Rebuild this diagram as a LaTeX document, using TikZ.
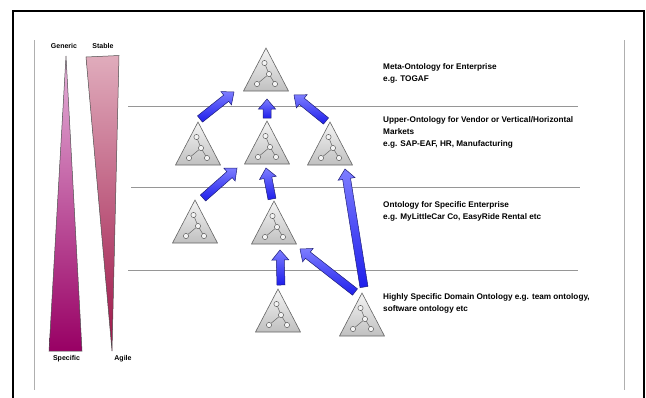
\documentclass[tikz,border=0pt]{standalone}
\usepackage{fontspec}
\setmainfont{Liberation Sans}
\usetikzlibrary{calc}
\definecolor{arrowlight}{RGB}{125,125,255}
\definecolor{arrowdark}{RGB}{30,30,235}
\definecolor{arrowedge}{RGB}{30,30,120}
\definecolor{genlight}{RGB}{230,178,218}
\definecolor{gendark}{RGB}{152,0,100}
\definecolor{stablight}{RGB}{224,172,188}
\definecolor{stabdark}{RGB}{158,20,72}
\definecolor{trilight}{RGB}{244,244,244}
\definecolor{tridark}{RGB}{192,192,192}
\definecolor{triedge}{RGB}{100,100,100}
\definecolor{rulegray}{RGB}{150,150,150}
\definecolor{sidegray}{RGB}{175,175,175}
\tikzset{
  blockarrow/.style={draw=arrowedge,line width=0.5pt,top color=arrowlight,bottom color=arrowdark,line join=miter},
  trifill/.style={draw=triedge,line width=0.6pt,top color=trilight,bottom color=tridark,line join=miter},
  treeline/.style={draw=triedge,line width=0.5pt},
  treenode/.style={draw=triedge,fill=trilight,line width=0.5pt},
  rule/.style={draw=rulegray,line width=1pt},
  sideline/.style={draw=sidegray,line width=0.9pt},
  frameline/.style={draw=black,line width=2pt},
  desc/.style={anchor=north west,inner sep=0pt,align=left,font=\bfseries\fontsize{8.2}{12}\selectfont},
  axislabel/.style={inner sep=0pt,font=\bfseries\fontsize{7}{8}\selectfont},
  onto/.pic={
    \path[trifill] (0,0) -- (-22.5,43) -- (22.5,43) -- cycle;
    \draw[treeline] (-1.5,15) -- (3,26) -- (-9,36) (3,26) -- (9,36);
    \foreach \q in {(-1.5,15),(3,26),(-9,36),(9,36)} \draw[treenode] \q circle (2.6pt);
  }
}
\newcommand\ontoarrow[2]{%
  \coordinate (hb) at ($(#2)!10pt!(#1)$);
  \path[blockarrow] ($(#1)!4pt!90:(#2)$) -- ($(hb)!4pt!90:(#2)$) -- ($(hb)!8.5pt!90:(#2)$) -- (#2)
    -- ($(hb)!8.5pt!-90:(#2)$) -- ($(hb)!4pt!-90:(#2)$) -- ($(#1)!4pt!-90:(#2)$) -- cycle;
}
\begin{document}
\begin{tikzpicture}[x=1pt,y=-1pt]
\useasboundingbox (0,0) rectangle (646,397);
% frame
\draw[frameline] (13,398) -- (13,11) -- (644,11) -- (644,398);
\draw[sideline] (34,40) -- (34,390);
\draw[sideline] (624,40) -- (624,390);
% left gradient triangles
\path[draw=black!70,line width=0.5pt,top color=genlight,bottom color=gendark] (66,56) -- (82,351) -- (49,351) -- cycle;
\path[draw=black!70,line width=0.5pt,top color=stablight,bottom color=stabdark] (86,57) -- (119,55.5) -- (112,351) -- cycle;
\node[axislabel] (gen) at (64,46) {Generic};
\node[axislabel] (stab) at (103,46) {Stable};
\node[axislabel] (spec) at (66.5,359) {Specific};
\node[axislabel] (agile) at (123,359) {Agile};
% layer rules
\draw[rule] (128,106) -- (578,106);
\draw[rule] (131,187) -- (580,187);
\draw[rule] (128,270) -- (578,270);
% ontology triangles
\coordinate (T0) at (266,48);
\coordinate (T1) at (198,122);
\coordinate (T2) at (267,121);
\coordinate (T3) at (330,122);
\coordinate (T4) at (195,200);
\coordinate (T5) at (274,201);
\coordinate (T6) at (278,289);
\coordinate (T7) at (362,293);
\foreach \t in {T0,T1,T2,T3,T4,T5,T6,T7} \pic at (\t) {onto};
% arrow ends
\coordinate (a1s) at ($(T1)+(2,-3)$);  \coordinate (a1e) at ($(T0)+(-32,44)$);
\coordinate (a2s) at ($(T2)+(0,-3)$);  \coordinate (a2e) at ($(T0)+(1,51)$);
\coordinate (a3s) at ($(T3)+(-4,-1)$); \coordinate (a3e) at ($(T0)+(28,47)$);
\coordinate (a4s) at ($(T4)+(8,-2)$);  \coordinate (a4e) at ($(T2)+(-30,47)$);
\coordinate (a5s) at ($(T5)+(-2,-2)$); \coordinate (a5e) at ($(T2)+(-1,47)$);
\coordinate (a6s) at ($(T7)+(2,-6)$);  \coordinate (a6e) at ($(T3)+(15,47)$);
\coordinate (a7s) at ($(T6)+(3,-4)$);  \coordinate (a7e) at ($(T5)+(6,49)$);
\coordinate (a8s) at ($(T7)+(-7,-1)$); \coordinate (a8e) at ($(T5)+(26,48)$);
\ontoarrow{a1s}{a1e}
\ontoarrow{a2s}{a2e}
\ontoarrow{a3s}{a3e}
\ontoarrow{a4s}{a4e}
\ontoarrow{a5s}{a5e}
\ontoarrow{a6s}{a6e}
\ontoarrow{a7s}{a7e}
\ontoarrow{a8s}{a8e}
% descriptions
\node[desc] (d1) at (383,63) {Meta-Ontology for Enterprise\\e.g. TOGAF};
\node[desc] (d2) at (383,116) {Upper-Ontology for Vendor or Vertical/Horizontal\\Markets\\e.g. SAP-EAF, HR, Manufacturing};
\node[desc] (d3) at (383,201) {Ontology for Specific Enterprise\\e.g. MyLittleCar Co, EasyRide Rental etc};
\node[desc] (d4) at (383,293) {Highly Specific Domain Ontology e.g. team ontology,\\software ontology etc};
\end{tikzpicture}
\end{document}
